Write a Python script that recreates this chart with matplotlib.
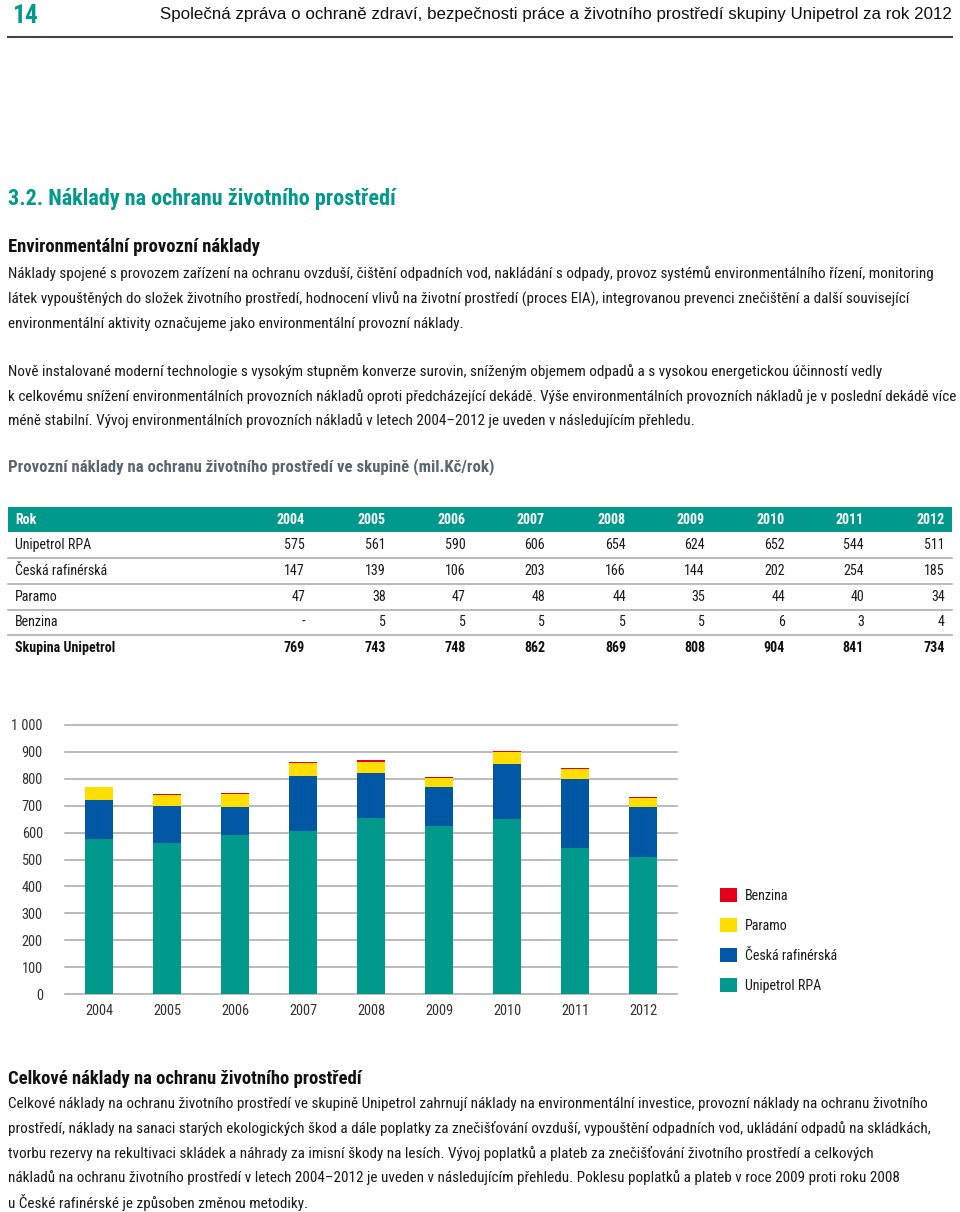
import matplotlib
matplotlib.use("Agg")
import matplotlib.pyplot as plt
from matplotlib.patches import Rectangle

FAMILY = ['Roboto Condensed', 'Liberation Sans Narrow', 'Liberation Sans', 'DejaVu Sans']
plt.rcParams['font.family'] = FAMILY

TEAL = '#00998c'
BLUE = '#0057a3'
YELLOW = '#ffde00'
RED = '#e3001b'
GRID = '#a8a8a8'

years = ['2004', '2005', '2006', '2007', '2008', '2009', '2010', '2011', '2012']
unipetrol_rpa = [575, 561, 590, 606, 654, 624, 652, 544, 511]
ceska_raf = [147, 139, 106, 203, 166, 144, 202, 254, 185]
paramo = [47, 38, 47, 48, 44, 35, 44, 40, 34]
benzina = [None, 5, 5, 5, 5, 5, 6, 3, 4]
row_names = ['Unipetrol RPA', 'Česká rafinérská', 'Paramo', 'Benzina']
total_name = 'Skupina Unipetrol'
y_ticks = [0, 100, 200, 300, 400, 500, 600, 700, 800, 900, 1000]

header = 'Společná zpráva o ochraně zdraví, bezpečnosti práce a životního prostředí skupiny Unipetrol za rok 2012'
title = '3.2. Náklady na ochranu životního prostředí'
sub1 = 'Environmentální provozní náklady'
table_title = 'Provozní náklady na ochranu životního prostředí ve skupině (mil.Kč/rok)'
sub2 = 'Celkové náklady na ochranu životního prostředí'
para1 = [
    "Náklady spojené s provozem zařízení na ochranu ovzduší, čištění odpadních vod, nakládání s odpady, provoz systémů environmentálního řízení, monitoring",
    "látek vypouštěných do složek životního prostředí, hodnocení vlivů na životní prostředí (proces EIA), integrovanou prevenci znečištění a další související",
    "environmentální aktivity označujeme jako environmentální provozní náklady.",
]
para2 = [
    "Nově instalované moderní technologie s vysokým stupněm konverze surovin, sníženým objemem odpadů a s vysokou energetickou účinností vedly",
    "k celkovému snížení environmentálních provozních nákladů oproti předcházející dekádě. Výše environmentálních provozních nákladů je v poslední dekádě více",
    "méně stabilní. Vývoj environmentálních provozních nákladů v letech 2004–2012 je uveden v následujícím přehledu.",
]
para3 = [
    "Celkové náklady na ochranu životního prostředí ve skupině Unipetrol zahrnují náklady na environmentální investice, provozní náklady na ochranu životního",
    "prostředí, náklady na sanaci starých ekologických škod a dále poplatky za znečišťování ovzduší, vypouštění odpadních vod, ukládání odpadů na skládkách,",
    "tvorbu rezervy na rekultivaci skládek a náhrady za imisní škody na lesích. Vývoj poplatků a plateb za znečišťování životního prostředí a celkových",
    "nákladů na ochranu životního prostředí v letech 2004–2012 je uveden v následujícím přehledu. Poklesu poplatků a plateb v roce 2009 proti roku 2008",
    "u České rafinérské je způsoben změnou metodiky.",
]

benzina_vals = [v if v is not None else 0 for v in benzina]
totals = [a + b + c + d for a, b, c, d in zip(unipetrol_rpa, ceska_raf, paramo, benzina_vals)]

fig = plt.figure(figsize=(9.6, 12.12), dpi=100)
renderer = fig.canvas.get_renderer()


def fit_size(s, width_px, weight='normal', family=FAMILY):
    # font size that makes the string span width_px on the page
    t = fig.text(0, 0, s, fontsize=10, fontweight=weight, family=family)
    w = t.get_window_extent(renderer).width
    t.remove()
    return 10 * width_px / w


BODY = min(fit_size(para1[0], 915), 11.5)
TABLE = fit_size('Česká rafinérská', 92)
TICK = fit_size('2004', 28)

# page layer in pixel coordinates
pg = fig.add_axes([0, 0, 1, 1])
pg.set_xlim(0, 960)
pg.set_ylim(1212, 0)
pg.axis('off')

pg.text(12, 16, '14', color=TEAL, fontsize=fit_size('14', 26, 'bold'), fontweight='bold', va='center')
pg.text(952, 15, header, ha='right', va='center', fontsize=fit_size(header, 789, family=['Liberation Sans', 'DejaVu Sans']),
        color='#111111', family=['Liberation Sans', 'DejaVu Sans'])
pg.plot([8, 952], [37, 37], color='#444444', lw=1.5)

pg.text(8, 199, title, color=TEAL, fontsize=fit_size(title, 387, 'bold'), fontweight='bold', va='center')
pg.text(8, 247, sub1, color='#111111', fontsize=fit_size(sub1, 252, 'bold'), fontweight='bold', va='center')
for i, line in enumerate(para1):
    pg.text(8, 274 + i * 25, line, fontsize=BODY, va='center', color='#1a1a1a')
for i, line in enumerate(para2):
    pg.text(8, 372 + i * 24.5, line, fontsize=BODY, va='center', color='#1a1a1a')
pg.text(8, 467, table_title, color='#5a6670', fontsize=fit_size(table_title, 484, 'bold'),
        fontweight='bold', va='center')

# table
col_right = [305, 386, 466, 545, 626, 705, 785, 864, 945]
pg.add_patch(Rectangle((8, 507), 944, 25, color=TEAL, lw=0))
pg.text(15, 519.5, 'Rok', color='white', fontweight='bold', fontsize=TABLE, va='center')
for x, yr in zip(col_right, years):
    pg.text(x, 519.5, yr, color='white', fontweight='bold', fontsize=TABLE, va='center', ha='right')

rows = [unipetrol_rpa, ceska_raf, paramo, benzina]
row_y = [545, 571, 597, 622]
for name, vals, y in zip(row_names, rows, row_y):
    pg.text(15, y, name, fontsize=TABLE, va='center', color='#1a1a1a')
    for x, v in zip(col_right, vals):
        pg.text(x, y, '-' if v is None else str(v), fontsize=TABLE, va='center', ha='right', color='#1a1a1a')
    pg.plot([8, 952], [y + 13, y + 13], color=GRID, lw=1.1)
pg.text(15, 648, total_name, fontsize=TABLE, va='center', fontweight='bold', color='#111111')
for x, v in zip(col_right, totals):
    pg.text(x, 648, str(v), fontsize=TABLE, va='center', ha='right', fontweight='bold', color='#111111')

pg.text(8, 1079, sub2, color='#111111', fontsize=fit_size(sub2, 354, 'bold'), fontweight='bold', va='center')
for i, line in enumerate(para3):
    pg.text(8, 1104 + i * 24.6, line, fontsize=BODY, va='center', color='#1a1a1a')

# chart
ax = fig.add_axes([65 / 960, 1 - 994 / 1212, 612 / 960, 269 / 1212])
x = list(range(len(years)))
w = 0.41
b1 = ax.bar(x, unipetrol_rpa, width=w, color=TEAL, label='Unipetrol RPA', lw=0)
b2 = ax.bar(x, ceska_raf, width=w, bottom=unipetrol_rpa, color=BLUE, label='Česká rafinérská', lw=0)
base3 = [a + b for a, b in zip(unipetrol_rpa, ceska_raf)]
b3 = ax.bar(x, paramo, width=w, bottom=base3, color=YELLOW, label='Paramo', lw=0)
base4 = [a + b for a, b in zip(base3, paramo)]
b4 = ax.bar(x, benzina_vals, width=w, bottom=base4, color=RED, label='Benzina', lw=0)

ax.set_xlim(-0.5, len(years) - 0.5)
ax.set_ylim(0, 1000)
ax.set_yticks(y_ticks)
ax.set_yticklabels([f'{t:,}'.replace(',', ' ') for t in y_ticks])
ax.set_xticks(x)
ax.set_xticklabels(years)
ax.grid(axis='y', color=GRID, lw=1.1)
ax.set_axisbelow(True)
for s in ax.spines.values():
    s.set_visible(False)
ax.tick_params(axis='y', length=0, pad=16, labelsize=TICK, labelcolor='#333333')
ax.tick_params(axis='x', length=0, pad=7, labelsize=TICK, labelcolor='#333333')
for gl in ax.get_ygridlines():
    gl.set_clip_on(False)

fs = TABLE
px = fs * 100 / 72
fig.legend(handles=[b4, b3, b2, b1], loc='upper left',
           bbox_to_anchor=(720 / 960, 1 - 888 / 1212), frameon=False, borderpad=0,
           borderaxespad=0, fontsize=fs, handlelength=17 / px, handleheight=17 / px,
           handletextpad=8 / px, labelspacing=15 / px, labelcolor='#1a1a1a')

fig.savefig('out.png', dpi=100)
